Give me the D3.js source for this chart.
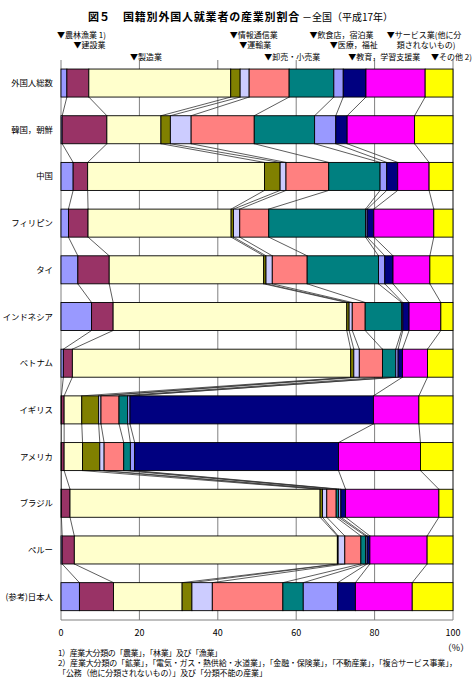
<!DOCTYPE html>
<html>
<head>
<meta charset="utf-8">
<script src="https://cdn.jsdelivr.net/npm/d3@7"></script>
<style>
  body { margin: 0; background: #fff; }
  text { font-family: "Noto Sans CJK JP", "Noto Sans", sans-serif; fill: #000; }
</style>
</head>
<body>
<div id="vis"></div>
<script>

// Data ----------------------------------------------------------------------

var countries = ["外国人総数", "韓国，朝鮮", "中国", "フィリピン", "タイ", "インドネシア",
                 "ベトナム", "イギリス", "アメリカ", "ブラジル", "ペルー", "(参考)日本人"];

var industries = ["農林漁業 1)", "建設業", "製造業", "情報通信業", "運輸業", "卸売・小売業",
                  "飲食店，宿泊業", "医療，福祉", "教育，学習支援業", "サービス業(他に分", "その他 2)"];

var industryColors = ["#9999FF", "#993366", "#FFFFCC", "#808000", "#CCCCFF", "#FF8080",
                      "#008080", "#9999FF", "#000080", "#FF00FF", "#FFFF00"];

// share (%) by industry, one array per nationality
var shareTotal     = [1.5, 5.6, 36.2, 2.4, 2.3, 10.2, 11.4, 2.4, 5.8, 15.1, 7.1];
var shareKorea     = [0.3, 11.4, 13.8, 2.4, 5.3, 16.1, 15.4, 5.4, 2.9, 17.2, 9.8];
var shareChina     = [3.1, 3.7, 45.1, 4.0, 1.5, 10.9, 13.1, 1.7, 2.8, 8.0, 6.1];
var sharePhilipp   = [1.9, 5.0, 36.5, 0.6, 1.6, 7.4, 24.7, 0.4, 1.7, 15.3, 4.9];
var shareThai      = [4.3, 8.0, 39.4, 0.6, 1.6, 8.9, 18.2, 1.6, 2.1, 9.4, 5.9];
var shareIndonesia = [7.8, 5.5, 59.6, 0.6, 0.8, 3.3, 9.3, 0.3, 1.6, 8.1, 3.1];
var shareVietnam   = [0.6, 2.3, 71.0, 0.8, 1.4, 5.9, 3.4, 0.6, 1.1, 6.4, 6.5];
var shareUK        = [0.1, 0.7, 4.5, 4.3, 0.6, 4.6, 2.2, 0.6, 62.1, 11.6, 8.7];
var shareUSA       = [0.1, 0.7, 4.7, 4.4, 1.1, 5.0, 1.7, 1.1, 52.0, 20.9, 8.3];
var shareBrazil    = [0.1, 2.2, 63.8, 0.6, 1.1, 2.4, 0.6, 0.6, 1.2, 23.8, 3.6];
var sharePeru      = [0.3, 3.1, 67.1, 0.2, 1.7, 4.1, 1.2, 0.4, 0.7, 14.6, 6.6];
var shareJapanese  = [4.7, 8.7, 17.5, 2.5, 5.2, 18.0, 5.2, 8.8, 4.5, 14.5, 10.4];

var shares = [shareTotal, shareKorea, shareChina, sharePhilipp, shareThai, shareIndonesia,
              shareVietnam, shareUK, shareUSA, shareBrazil, sharePeru, shareJapanese];

var xTicks = [0, 20, 40, 60, 80, 100];

var notes = [
  "1）産業大分類の「農業」，「林業」及び「漁業」",
  "2）産業大分類の「鉱業」，「電気・ガス・熱供給・水道業」，「金融・保険業」，「不動産業」，「複合サービス事業」，",
  "「公務（他に分類されないもの）」及び「分類不能の産業」"
];
var noteWidths = [164, 399, 209];

// where each ▼ label points (in % units) and which of the 3 label rows it sits on
var legendAt  = [0, 4.2, 18.6, 44.1, 46.5, 52.9, 64.4, 69.6, 74.3, 84.1, 95.4];
var legendRow = [0, 1, 2, 0, 1, 2, 0, 1, 2, 0, 2];


// Setup ---------------------------------------------------------------------

var width = 474, height = 681;

var svg = d3.select("#vis").append("svg")
  .attr("width", width)
  .attr("height", height);

var x = d3.scaleLinear()
  .domain([0, 100])
  .range([61, 453]);

var y = d3.scaleBand()
  .domain(countries)
  .range([59.7, 620])
  .paddingInner(0.4)
  .paddingOuter(0.2);

var bw = y.bandwidth();

// stack each row
var stacked = shares.map(function(row, i) {
  var cum = 0;
  return row.map(function(v, k) {
    var d = {country: countries[i], k: k, x0: cum, x1: cum + v};
    cum += v;
    return d;
  });
});


// Title ---------------------------------------------------------------------

var title = svg.append("text").attr("y", 21);
title.append("tspan").attr("x", 88).style("font-size", "11px").style("font-weight", "bold")
  .text("図５");
title.append("tspan").attr("x", 123).style("font-size", "11px").style("font-weight", "bold")
  .style("letter-spacing", "0.8px")
  .text("国籍別外国人就業者の産業別割合");
title.append("tspan").attr("x", 302).style("font-size", "10px")
  .text("－全国（平成17年）");


// Grid and axes -------------------------------------------------------------

svg.append("g")
  .selectAll("line")
  .data(xTicks)
  .enter().append("line")
    .attr("x1", x).attr("x2", x)
    .attr("y1", 60).attr("y2", 620)
    .attr("stroke", "#808080")
    .attr("stroke-width", 1);

svg.append("line")
  .attr("x1", x(0)).attr("x2", x(100))
  .attr("y1", 620).attr("y2", 620)
  .attr("stroke", "#808080");

svg.append("g")
  .selectAll("text")
  .data(xTicks)
  .enter().append("text")
    .attr("x", x)
    .attr("y", 636)
    .attr("text-anchor", "middle")
    .style("font-size", "9px")
    .text(function(d) { return d; });

svg.append("text")
  .attr("x", 456)
  .attr("y", 651)
  .attr("text-anchor", "middle")
  .style("font-size", "9px")
  .text("（%）");


// Series lines --------------------------------------------------------------

var links = [];
for (var i = 0; i < stacked.length - 1; i++) {
  for (var k = 0; k < industries.length; k++) {
    links.push({a: stacked[i][k], b: stacked[i + 1][k]});
  }
}

svg.append("g")
  .selectAll("line")
  .data(links)
  .enter().append("line")
    .attr("x1", function(d) { return x(d.a.x1); })
    .attr("y1", function(d) { return y(d.a.country) + bw; })
    .attr("x2", function(d) { return x(d.b.x1); })
    .attr("y2", function(d) { return y(d.b.country); })
    .attr("stroke", "#333")
    .attr("stroke-width", 0.8);


// Bars ----------------------------------------------------------------------

svg.append("g")
  .selectAll("g")
  .data(stacked)
  .enter().append("g")
  .selectAll("rect")
  .data(function(d) { return d; })
  .enter().append("rect")
    .attr("x", function(d) { return x(d.x0); })
    .attr("y", function(d) { return y(d.country); })
    .attr("width", function(d) { return x(d.x1) - x(d.x0); })
    .attr("height", bw)
    .attr("fill", function(d) { return industryColors[d.k]; })
    .attr("stroke", "#000")
    .attr("stroke-width", 0.9);


// Category labels -----------------------------------------------------------

svg.append("g")
  .selectAll("text")
  .data(countries)
  .enter().append("text")
    .attr("x", 53)
    .attr("y", function(d) { return y(d) + bw / 2 + 3; })
    .attr("text-anchor", "end")
    .style("font-size", "8.4px")
    .text(function(d) { return d; });


// Industry labels -----------------------------------------------------------

var rowBase = [38, 48, 59.5];

svg.append("g")
  .selectAll("text")
  .data(industries)
  .enter().append("text")
    .attr("x", function(d, i) { return x(legendAt[i]) - 4; })
    .attr("y", function(d, i) { return rowBase[legendRow[i]]; })
    .style("font-size", "8px")
    .text(function(d) { return "▼" + d; });

svg.append("text")
  .attr("x", x(84.1) + 6)
  .attr("y", rowBase[1])
  .style("font-size", "8px")
  .text("類されないもの)");


// Notes ---------------------------------------------------------------------

svg.append("g")
  .selectAll("text")
  .data(notes)
  .enter().append("text")
    .attr("x", 58)
    .attr("y", function(d, i) { return 656 + i * 10; })
    .attr("textLength", function(d, i) { return noteWidths[i]; })
    .attr("lengthAdjust", "spacing")
    .style("font-size", "8px")
    .text(function(d) { return d; });

</script>
</body>
</html>
